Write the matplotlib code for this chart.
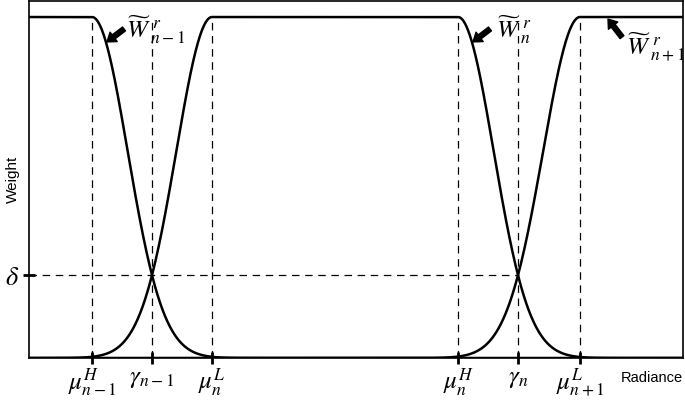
import numpy as np
import matplotlib.pyplot as plt

plt.rcParams['mathtext.fontset'] = 'stix'
plt.rcParams['font.family'] = ['Liberation Sans', 'DejaVu Sans']

# breakpoints on the radiance axis (arbitrary units)
mu_H = [63, 429]      # mu^H_{n-1}, mu^H_n
gamma = [123, 489]    # gamma_{n-1}, gamma_n
mu_L = [183, 551]     # mu^L_n, mu^L_{n+1}
delta = 0.243         # weight where neighbouring curves cross
x_max = 654
y_max = 1.047

tick_pos = [mu_H[0], gamma[0], mu_L[0], mu_H[1], gamma[1], mu_L[1]]
tick_labels = [r'$\mu_{n-1}^{H}$', r'$\gamma_{n-1}$', r'$\mu_{n}^{L}$',
               r'$\mu_{n}^{H}$', r'$\gamma_{n}$', r'$\mu_{n+1}^{L}$']
curve_labels = [r'$\widetilde{W}\,{}_{n-1}^{\,r}$', r'$\widetilde{W}\,{}_{n}^{\,r}$',
                r'$\widetilde{W}\,{}_{n+1}^{\,r}$']

x = np.linspace(0, x_max, 3000)


def fall(x, a, g):
    # gaussian drop that is 1 at a and delta at g
    s = (g - a) / np.sqrt(-np.log(delta))
    return np.where(x <= a, 1.0, np.exp(-((x - a) / s) ** 2))


def rise(x, b, g):
    s = (b - g) / np.sqrt(-np.log(delta))
    return np.where(x >= b, 1.0, np.exp(-((b - x) / s) ** 2))


w_prev = fall(x, mu_H[0], gamma[0])
w_cur = np.minimum(rise(x, mu_L[0], gamma[0]), fall(x, mu_H[1], gamma[1]))
w_next = rise(x, mu_L[1], gamma[1])

fig = plt.figure(figsize=(6.85, 4.03), dpi=100)
ax = fig.add_axes([29 / 685, 45 / 403, 654 / 685, 357 / 403])

for w in (w_prev, w_cur, w_next):
    ax.plot(x, w, color='black', lw=1.8, solid_capstyle='butt')

for p in tick_pos:
    ax.plot([p, p], [0, 1], color='black', lw=0.9, ls=(0, (6, 4.5)))
ax.plot([0, gamma[1]], [delta, delta], color='black', lw=0.9, ls=(0, (6, 4.5)))

ax.set_xlim(0, x_max)
ax.set_ylim(0, y_max)
ax.set_xticks(tick_pos, tick_labels, fontsize=18)
ax.set_yticks([delta], [r'$\delta$'], fontsize=19)
ax.tick_params(axis='both', direction='inout', length=8, width=2, pad=2)
ax.tick_params(axis='y', pad=3)
for s in ax.spines.values():
    s.set_linewidth(1.2)

ax.set_ylabel('Weight', fontsize=11)
ax.yaxis.set_label_coords(-0.014, 0.5)
ax.set_xlabel('Radiance', fontsize=10.5)
ax.xaxis.set_label_coords(0.953, -0.037)

# curve names
text_pos = [(97, 0.941), (467, 0.941), (597, 0.889)]
for (tx, ty), lab in zip(text_pos, curve_labels):
    ax.text(tx, ty, lab, fontsize=18, ha='left', va='baseline')

# arrows pointing at the curves: (tail, head)
arrow_ends = [((95, 0.965), (78, 0.927)),
              ((461, 0.965), (444, 0.927)),
              ((593, 0.941), (579, 0.994))]
arrow = dict(arrowstyle='simple,head_width=0.85,head_length=0.6,tail_width=0.35',
             color='black', shrinkA=0, shrinkB=0, mutation_scale=10)
for tail, head in arrow_ends:
    ax.annotate('', xy=head, xytext=tail, arrowprops=arrow)

fig.savefig('out.png', dpi=100)
